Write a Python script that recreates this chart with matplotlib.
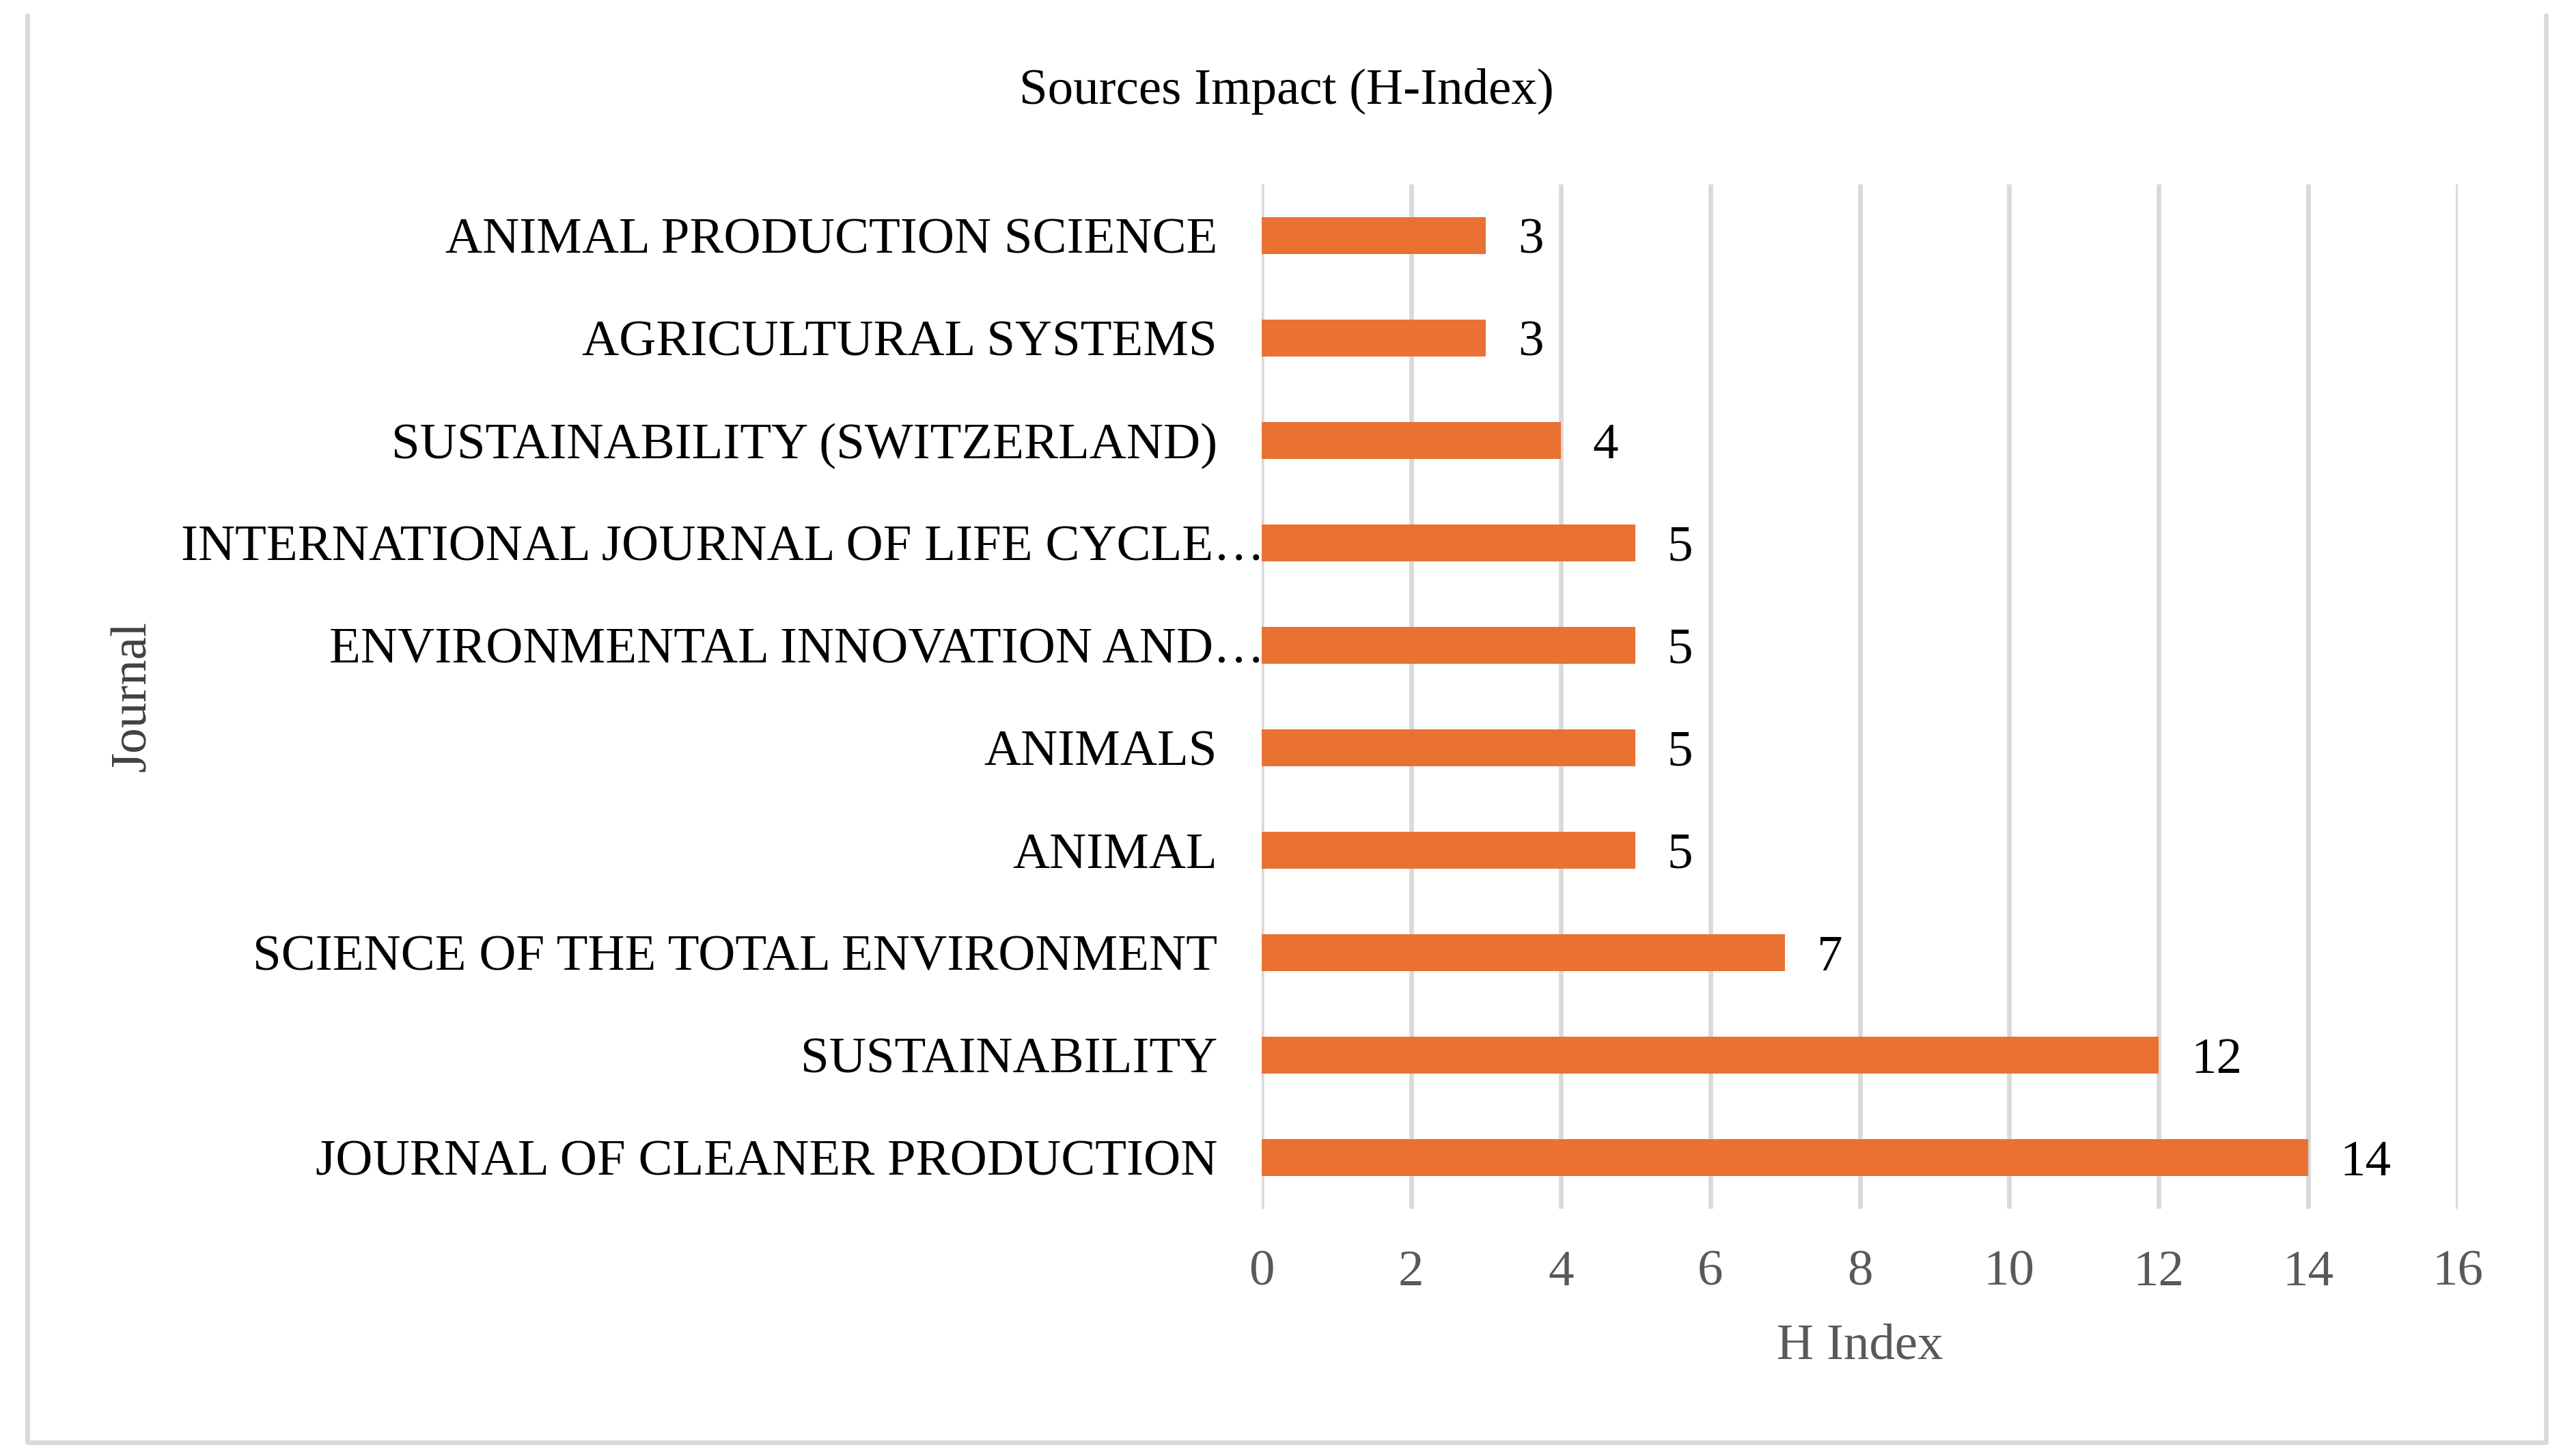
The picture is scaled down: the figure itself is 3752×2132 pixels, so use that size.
import matplotlib.pyplot as plt
from matplotlib.lines import Line2D
from matplotlib.transforms import ScaledTranslation

plt.rcParams['font.family'] = ['Liberation Serif', 'DejaVu Serif']

# journals from bottom to top, as drawn
journals = ['JOURNAL OF CLEANER PRODUCTION', 'SUSTAINABILITY',
            'SCIENCE OF THE TOTAL ENVIRONMENT', 'ANIMAL', 'ANIMALS',
            'ENVIRONMENTAL INNOVATION AND…',
            'INTERNATIONAL JOURNAL OF LIFE CYCLE…',
            'SUSTAINABILITY (SWITZERLAND)', 'AGRICULTURAL SYSTEMS',
            'ANIMAL PRODUCTION SCIENCE']
h_index = [14, 12, 7, 5, 5, 5, 5, 4, 3, 3]
x_ticks = [0, 2, 4, 6, 8, 10, 12, 14, 16]

W, H = 3752, 2132
fig = plt.figure(figsize=(W / 240, H / 240), dpi=240)
ax = fig.add_axes([1847 / W, 1 - 1770 / H, (3598 - 1847) / W, 1500 / H])

bars = ax.barh(range(len(journals)), h_index, height=0.36, color='#E97132', zorder=3)
for t in ax.bar_label(bars, padding=14, fontsize=22.5, color='black'):
    t.set_va('center_baseline')

ax.set_xlim(0, 16)
ax.set_ylim(-0.5, len(journals) - 0.5)
ax.set_xticks(x_ticks)
ax.set_yticks(range(len(journals)))
ax.set_yticklabels(journals)
ax.grid(axis='x', color='#D9D9D9', linewidth=2.0, zorder=0)
for s in ax.spines.values():
    s.set_visible(False)
ax.tick_params(axis='both', length=0)
ax.tick_params(axis='x', pad=18, labelsize=22.5, labelcolor='#595959')
ax.tick_params(axis='y', pad=19.5, labelsize=22.5, labelcolor='black')

# Excel-style truncated labels sit closer to the axis
shift = ScaledTranslation(0.29, 0, fig.dpi_scale_trans)
for lab in ax.get_yticklabels():
    if lab.get_text().endswith('…'):
        lab.set_transform(lab.get_transform() + shift)

ax.set_xlabel('H Index', fontsize=22.5, color='#595959', labelpad=12)
fig.text(195 / W, 1 - 1020 / H, 'Journal', rotation=90, ha='center', va='center',
         fontsize=22.5, color='#404040')
fig.text(1883 / W, 1 - 134 / H, 'Sources Impact (H-Index)', ha='center', va='center',
         fontsize=22.5, color='black')

# chart area border
fig.add_artist(Line2D([40 / W, 40 / W, 3727 / W, 3727 / W],
                      [1 - 23 / H, 1 - 2112 / H, 1 - 2112 / H, 1 - 23 / H],
                      transform=fig.transFigure, color='#D9D9D9', linewidth=2.0))

fig.savefig('out.png', dpi=240)
